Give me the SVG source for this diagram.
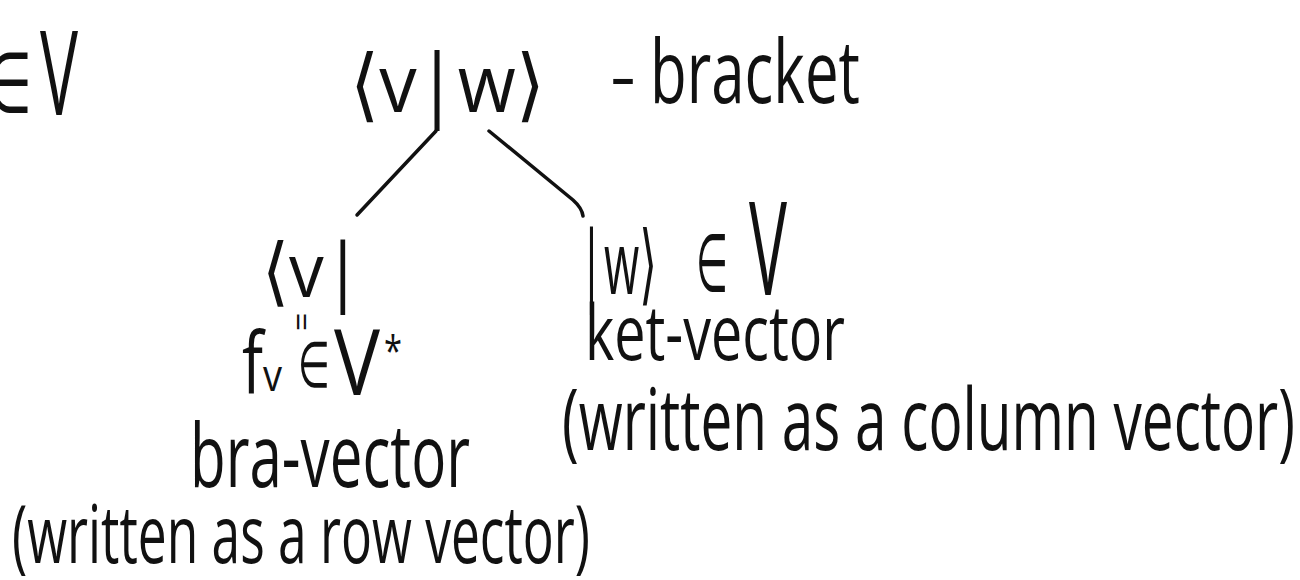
<svg xmlns="http://www.w3.org/2000/svg" width="1300" height="580" viewBox="0 0 1300 580">
  <style>
    .hw { font-family: "Open Sans", "DejaVu Sans", sans-serif; font-weight: 400; fill: #111; }
    .sym { font-family: "DejaVu Sans", sans-serif; font-weight: 400; fill: #111; }
    .conn { fill: none; stroke: #111; stroke-width: 3.5; stroke-linecap: round; }
  </style>
  <rect x="0" y="0" width="1300" height="580" fill="#ffffff"/>

  <g id="node-partial-left">
    <text class="sym" x="-14" y="112" font-size="84" textLength="46" lengthAdjust="spacingAndGlyphs">∈</text>
    <text class="hw" x="40" y="115" font-size="118" textLength="38" lengthAdjust="spacingAndGlyphs">V</text>
  </g>

  <g id="node-bracket">
    <text class="hw" x="350" y="112" font-size="80" textLength="195" lengthAdjust="spacingAndGlyphs">⟨v|w⟩</text>
    <text class="hw" x="610" y="100" font-size="70" textLength="26" lengthAdjust="spacingAndGlyphs">-</text>
    <text class="hw" x="650" y="103" font-size="88" textLength="210" lengthAdjust="spacingAndGlyphs">bracket</text>
  </g>

  <g id="connectors">
    <path class="conn" d="M436,131 L357,215"/>
    <path class="conn" d="M489,131 L573,200 Q582,208 583,216"/>
  </g>

  <g id="node-bra">
    <text class="hw" x="262" y="297" font-size="75" textLength="100" lengthAdjust="spacingAndGlyphs">⟨v|</text>
    <text class="hw" x="302" y="322" font-size="32" text-anchor="middle" dominant-baseline="central" transform="rotate(90 302 322)">=</text>
    <text class="hw" x="242" y="394" font-size="86" textLength="21" lengthAdjust="spacingAndGlyphs">f</text>
    <text class="hw" x="263" y="391" font-size="44" textLength="19" lengthAdjust="spacingAndGlyphs">v</text>
    <text class="sym" x="298" y="387" font-size="64" textLength="32" lengthAdjust="spacingAndGlyphs">∈</text>
    <text class="hw" x="334" y="395" font-size="92" textLength="46" lengthAdjust="spacingAndGlyphs">V</text>
    <text class="hw" x="384" y="366" font-size="42" textLength="18" lengthAdjust="spacingAndGlyphs">*</text>
    <text class="hw" x="190" y="487" font-size="88" textLength="280" lengthAdjust="spacingAndGlyphs">bra-vector</text>
    <text class="hw" x="12" y="563" font-size="80" textLength="578" lengthAdjust="spacingAndGlyphs">(written as a row vector)</text>
  </g>

  <g id="node-ket">
    <text class="hw" x="579" y="294" font-size="88" textLength="78" lengthAdjust="spacingAndGlyphs">|w⟩</text>
    <text class="sym" x="696" y="291" font-size="80" textLength="32" lengthAdjust="spacingAndGlyphs">∈</text>
    <text class="hw" x="749" y="295" font-size="130" textLength="38" lengthAdjust="spacingAndGlyphs">V</text>
    <text class="hw" x="585" y="360" font-size="76" textLength="260" lengthAdjust="spacingAndGlyphs">ket-vector</text>
    <text class="hw" x="562" y="450" font-size="86" textLength="733" lengthAdjust="spacingAndGlyphs">(written as a column vector)</text>
  </g>
</svg>
